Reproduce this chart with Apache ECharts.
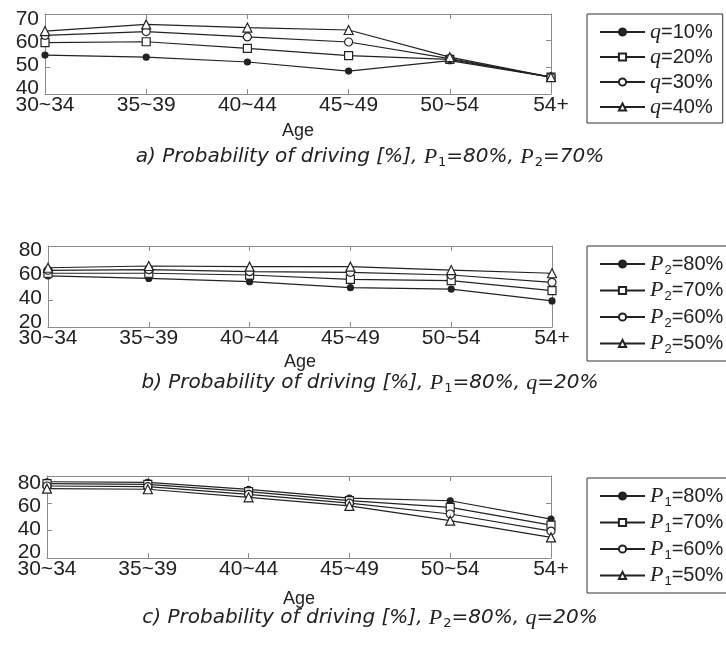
<!DOCTYPE html>
<html>
<head>
<meta charset="utf-8">
<script src="https://cdn.jsdelivr.net/npm/echarts@6/dist/echarts.min.js"></script>
<style>
  html, body { margin: 0; padding: 0; background: #fff; }
  #chart { width: 726px; height: 646px; }
</style>
</head>
<body>
<div id="chart"></div>
<script>
  // data
  var ages = ['30~34', '35~39', '40~44', '45~49', '50~54', '54+'];

  // a) P1=80%, P2=70%
  var aNames = ['q=10%', 'q=20%', 'q=30%', 'q=40%'];
  var aQ10 = [54.6, 53.8, 52.0, 48.6, 52.5, 46.3];
  var aQ20 = [59.3, 59.6, 57.1, 54.4, 53.0, 46.3];
  var aQ30 = [62.0, 63.4, 61.4, 59.5, 53.3, 46.3];
  var aQ40 = [63.6, 66.1, 64.9, 64.0, 53.8, 46.3];
  var aTicks = [40, 50, 60, 70];

  // b) P1=80%, q=20%
  var bNames = ['P2=80%', 'P2=70%', 'P2=60%', 'P2=50%'];
  var bP80 = [57.8, 56.0, 53.6, 49.1, 48.1, 39.3];
  var bP70 = [59.8, 59.8, 58.5, 55.3, 54.3, 46.9];
  var bP60 = [62.0, 62.5, 61.0, 60.5, 58.5, 53.1];
  var bP50 = [63.9, 65.2, 64.7, 64.7, 62.2, 59.8];
  var bTicks = [20, 40, 60, 80];

  // c) P2=80%, q=20%
  var cNames = ['P1=80%', 'P1=70%', 'P1=60%', 'P1=50%'];
  var cP80 = [75.8, 75.4, 70.2, 63.8, 61.9, 48.5];
  var cP70 = [74.4, 73.9, 68.5, 62.0, 57.1, 44.1];
  var cP60 = [72.7, 72.2, 66.6, 60.1, 52.2, 39.7];
  var cP50 = [70.7, 70.3, 64.4, 58.1, 47.3, 35.1];
  var cTicks = [20, 40, 60, 80];

  var captions = [
    '{it|a) Probability of driving [%], }{p|P}{sb|1}{it|=80%, }{p|P}{sb|2}{it|=70%}',
    '{it|b) Probability of driving [%], }{p|P}{sb|1}{it|=80%, }{p|q}{it|=20%}',
    '{it|c) Probability of driving [%], }{p|P}{sb|2}{it|=80%, }{p|q}{it|=20%}'
  ];

  var sans = 'Liberation Sans';
  var wide = 'DejaVu Sans';
  var serif = 'Liberation Serif';
  var ink = '#222';
  var frame = '#8c8c8c';

  var myChart = echarts.init(document.getElementById('chart'));

  // layout of the three panels
  // labMin/labMax: the tick numbers in the original are squeezed a bit towards the middle,
  // so they hang on a label-only axis with a slightly wider span
  var panels = [
    { left: 45, right: 175, top: 14, height: 80, min: 40, max: 70, step: 10, ticks: aTicks,
      labMin: 37.6, labMax: 72.2, nameGap: 28, cap: 157, legTop: 14 },
    { left: 48, right: 174, top: 246, height: 81, min: 20, max: 80, step: 20, ticks: bTicks,
      labMin: 16.2, labMax: 83.4, nameGap: 26, cap: 383, legTop: 246 },
    { left: 47, right: 175, top: 476, height: 82, min: 20, max: 80, step: 20, ticks: cTicks,
      labMin: 14.9, labMax: 86.5, nameGap: 32, cap: 618, legTop: 478 }
  ];
  var seriesData = [[aQ10, aQ20, aQ30, aQ40], [bP80, bP70, bP60, bP50], [cP80, cP70, cP60, cP50]];
  var seriesNames = [aNames, bNames, cNames];
  var symbols = ['circle', 'rect', 'circle', 'triangle'];

  var grids = [], xAxes = [], yAxes = [], series = [], legends = [], graphics = [];

  panels.forEach(function (p, g) {
    grids.push({ left: p.left, right: p.right, top: p.top, height: p.height, containLabel: false });

    xAxes.push({
      type: 'category', gridIndex: g, data: ages, boundaryGap: false,
      axisLine: { lineStyle: { color: frame } },
      axisTick: { inside: true, length: 5, lineStyle: { color: frame } },
      axisLabel: { fontFamily: sans, fontSize: 21, color: ink, margin: 1,
        showMinLabel: true, showMaxLabel: true, hideOverlap: false },
      name: 'Age', nameLocation: 'middle', nameGap: p.nameGap,
      nameTextStyle: { fontFamily: sans, fontSize: 18, color: ink }
    });
    xAxes.push({
      type: 'category', gridIndex: g, data: ages, boundaryGap: false, position: 'top',
      axisLine: { lineStyle: { color: frame } },
      axisTick: { inside: true, length: 5, lineStyle: { color: frame } },
      axisLabel: { show: false }
    });
    // data axis (frame + ticks)
    yAxes.push({
      type: 'value', gridIndex: g, min: p.min, max: p.max, interval: p.step,
      splitLine: { show: false },
      axisLine: { show: true, lineStyle: { color: frame } },
      axisTick: { show: true, inside: true, length: 5, lineStyle: { color: frame } },
      axisLabel: { show: false }
    });
    yAxes.push({
      type: 'value', gridIndex: g, min: p.min, max: p.max, interval: p.step, position: 'right',
      splitLine: { show: false },
      axisLine: { show: true, lineStyle: { color: frame } },
      axisTick: { show: true, inside: true, length: 5, lineStyle: { color: frame } },
      axisLabel: { show: false }
    });
    // tick numbers
    yAxes.push({
      type: 'value', gridIndex: g, min: p.labMin, max: p.labMax, position: 'left',
      splitLine: { show: false }, axisLine: { show: false }, axisTick: { show: false },
      axisLabel: { customValues: p.ticks, margin: 6, fontFamily: sans, fontSize: 21, color: ink,
        showMinLabel: true, showMaxLabel: true, hideOverlap: false }
    });

    seriesData[g].forEach(function (vals, k) {
      series.push({
        type: 'line', name: seriesNames[g][k], xAxisIndex: 2 * g, yAxisIndex: 3 * g,
        data: vals, symbol: symbols[k], symbolSize: k === 0 ? 6 : (k === 3 ? 9 : 8),
        showAllSymbol: true,
        lineStyle: { color: ink, width: 1.2 },
        itemStyle: { color: k === 0 ? ink : '#fff', borderColor: ink, borderWidth: 1.2 },
        emphasis: { disabled: true }
      });
    });

    legends.push({
      data: seriesNames[g], orient: 'vertical', left: 587, top: p.legTop,
      itemWidth: 45, itemHeight: 9, itemGap: 3,
      padding: [7, 10, 5, 12],
      borderColor: '#333', borderWidth: 1,
      selectedMode: false,
      formatter: function (name) {
        var m = name.match(/^([A-Za-z])(\d?)(=.*)$/);
        return '{p|' + m[1] + '}' + (m[2] ? '{sb|' + m[2] + '}' : '') + '{t|' + m[3] + '}';
      },
      textStyle: {
        color: ink,
        rich: {
          p: { fontFamily: serif, fontStyle: 'italic', fontSize: 22, color: ink, lineHeight: 20 },
          sb: { fontFamily: sans, fontSize: 13, color: ink, padding: [12, 0, 0, 1] },
          t: { fontFamily: sans, fontSize: 20, color: ink, lineHeight: 20 }
        }
      }
    });

    graphics.push({
      type: 'text', x: 370, y: p.cap,
      style: {
        text: captions[g], align: 'center', verticalAlign: 'middle',
        rich: {
          it: { fontFamily: wide, fontStyle: 'italic', fontSize: 20, fill: ink },
          p: { fontFamily: serif, fontStyle: 'italic', fontSize: 22, fill: ink },
          sb: { fontFamily: wide, fontSize: 13, fill: ink, padding: [12, 0, 0, 1] }
        }
      }
    });
  });

  var option = {
    animation: false,
    backgroundColor: '#fff',
    grid: grids,
    xAxis: xAxes,
    yAxis: yAxes,
    legend: legends,
    series: series,
    graphic: graphics
  };
  myChart.setOption(option);
</script>
</body>
</html>
